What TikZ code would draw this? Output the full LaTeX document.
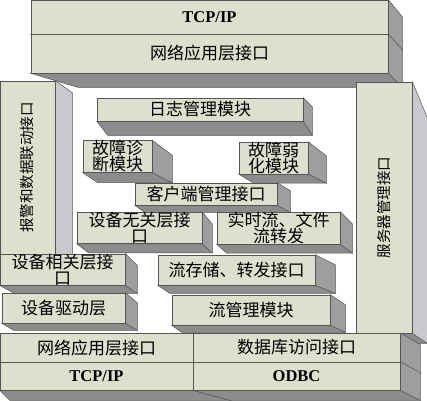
\documentclass[tikz,border=0pt]{standalone}
\usepackage{fontspec}
\setmainfont{Liberation Serif}
\newfontfamily\cjk{Noto Sans CJK SC}
\usetikzlibrary{calc, backgrounds}
\definecolor{facebg}{RGB}{222,223,204}
\definecolor{sidegray}{RGB}{158,158,158}
\definecolor{lowgray}{RGB}{140,140,140}
\definecolor{palegray}{RGB}{202,202,206}
\definecolor{edgegray}{RGB}{85,85,85}

% front face of a slab, given by its corners (pixels)
\newcommand{\slab}[7][]{%
  \node[face, minimum width={#5-#3}, minimum height={#6-#4}, #1] (#2) at ({(#3+#5)/2},{(#4+#6)/2}) {#7};}
% side and bottom faces: node, dx, side top drop, depth, bottom shift
\newcommand{\extrude}[6][sidegray]{%
  \begin{pgfonlayer}{background}
    \filldraw[fill=lowgray, draw=edgegray, line width=0.5pt] (#2.south west) -- (#2.south east) -- ++(#3,#5) -- ($(#2.south west)+(#6,#5)$) -- cycle;
    \filldraw[fill=#1, draw=edgegray, line width=0.5pt] (#2.north east) -- ++(#3,#4) -- ($(#2.south east)+(#3,#5)$) -- (#2.south east) -- cycle;
  \end{pgfonlayer}}

\begin{document}
\begin{tikzpicture}[x=1pt, y=-1pt,
    face/.style={draw=edgegray, fill=facebg, line width=0.6pt, inner sep=0pt, align=center,
      font=\cjk\fontsize{17}{16}\selectfont},
    latin/.style={font=\rmfamily\bfseries\fontsize{16.5}{16}\selectfont},
    column/.style={font=\cjk\fontsize{14.5}{15}\selectfont},
  ]
  \useasboundingbox (0,0) rectangle (427,400);

  % top stack
  \slab[latin]{tcptop}{31}{0}{388}{34}{TCP/IP}
  \extrude{tcptop}{14}{17}{16}{47}
  \slab{nettop}{31}{34}{388}{73}{网络应用层接口}
  \extrude{nettop}{14}{16}{14}{47}

  % side columns
  \slab[column]{alarm}{0}{81}{55}{254}{\rotatebox{90}{报警和数据联动接口}}
  \extrude[palegray]{alarm}{17}{12}{0}{0}
  \slab[column]{server}{356}{82}{412}{333}{\rotatebox{90}{服务器管理接口}}
  \extrude[palegray]{server}{15}{36}{10}{0}

  % inner modules
  \slab{log}{97}{98}{303}{121}{日志管理模块}
  \extrude{log}{9}{9}{14}{11}
  \slab{diag}{83}{143}{152}{170}{故障诊\\断模块}
  \extrude{diag}{20}{15}{10}{15}
  \slab{weak}{239}{143}{308}{173}{故障弱\\化模块}
  \extrude{weak}{18}{14}{9}{15}
  \slab{client}{135}{183}{277}{205}{客户端管理接口}
  \extrude{client}{13}{8}{7}{10}
  \slab{devfree}{77}{213}{202}{243}{设备无关层接\\口}
  \extrude{devfree}{10}{12}{9}{12}
  \slab{relay}{217}{213}{340}{243}{实时流、文件\\流转发}
  \extrude{relay}{12}{12}{9}{10}
  \slab{devdep}{0}{254}{125}{285}{设备相关层接\\口}
  \extrude{devdep}{12}{12}{8}{15}
  \slab{driver}{2}{293}{125}{323}{设备驱动层}
  \extrude{driver}{12}{10}{7}{12}
  \slab{store}{158}{255}{315}{285}{流存储、转发接口}
  \extrude{store}{20}{10}{8}{12}
  \slab{flow}{172}{295}{330}{325}{流管理模块}
  \extrude{flow}{15}{10}{7}{10}

  % bottom stack
  \slab{netlow}{0}{333}{193}{362}{网络应用层接口}
  \extrude{netlow}{37}{10}{10}{10}
  \slab[latin]{tcplow}{0}{362}{193}{390}{TCP/IP}
  \extrude{tcplow}{37}{10}{10}{10}
  \slab{dbif}{193}{333}{400}{362}{数据库访问接口}
  \extrude{dbif}{20}{12}{11}{37}
  \slab[latin]{odbc}{193}{362}{400}{390}{ODBC}
  \extrude{odbc}{20}{11}{10}{37}
\end{tikzpicture}
\end{document}
